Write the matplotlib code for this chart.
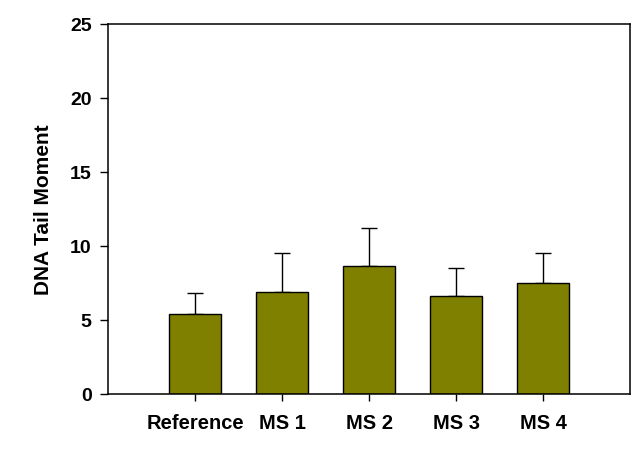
import matplotlib
matplotlib.use("Agg")
import matplotlib.pyplot as plt

plt.rcParams['font.family'] = ['Liberation Sans', 'DejaVu Sans']
plt.rcParams['font.weight'] = 'bold'

groups = ['Reference', 'MS 1', 'MS 2', 'MS 3', 'MS 4']
tail_moment = [5.38, 6.86, 8.62, 6.59, 7.47]
err_up = [1.41, 2.63, 2.56, 1.89, 2.02]

fig = plt.figure(figsize=(6.41, 4.56), dpi=100)
ax = fig.add_axes([0.169, 0.134, 0.814, 0.812])

pos = list(range(1, len(groups) + 1))
ax.bar(pos, tail_moment, width=0.6, color='#808000', edgecolor='black', linewidth=1.0, zorder=2)
ax.errorbar(pos, tail_moment, yerr=[[0] * len(err_up), err_up], fmt='none',
            ecolor='black', elinewidth=1.0, capsize=5.5, capthick=1.0, zorder=1)

ax.set_xlim(0, 6)
ax.set_ylim(0, 25)
ax.set_yticks([0, 5, 10, 15, 20, 25])
ax.set_xticks(pos)
ax.set_xticklabels(groups, fontsize=14.5, fontweight='bold')
ax.tick_params(axis='y', direction='out', length=6, width=1, labelsize=14, pad=6)
ax.tick_params(axis='x', direction='out', length=5, width=1, pad=9)
for lbl in ax.get_yticklabels():
    lbl.set_fontweight('bold')
for s in ax.spines.values():
    s.set_linewidth(1.1)

ax.set_ylabel('DNA Tail Moment', fontsize=15, fontweight='bold', labelpad=12)

fig.savefig('out.png', dpi=100)
